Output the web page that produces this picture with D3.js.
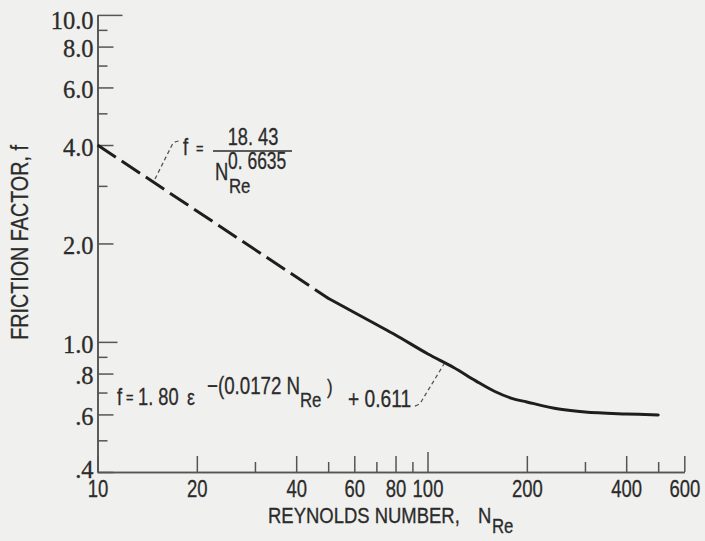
<!DOCTYPE html>
<html><head><meta charset="utf-8">
<script src="https://cdn.jsdelivr.net/npm/d3@7"></script>
<style>
html,body{margin:0;padding:0;background:#f1f1ef;}
svg{display:block;}
</style></head><body>
<svg id="c" width="705" height="541"></svg>
<script>
// ---- data ----
const xMajorTicks = [10, 20, 40, 60, 80, 100, 200, 400, 600];
const xMajorLabels = ["10", "20", "40", "60", "80", "100", "200", "400", "600"];
const xMinorTicks = [30, 50, 70, 90, 300, 500];
const yMajorTicks = [10, 8, 6, 4, 2, 1, 0.8, 0.6, 0.4];
const yMajorLabels = ["10.0", "8.0", "6.0", "4.0", "2.0", "1.0", ".8", ".6", ".4"];
const yMinorTicks = [9, 7, 5, 3, 0.9, 0.7, 0.5];

// power-law portion (dashed)
const powerLawN = [10, 50];
const powerLawF = [4.0, 1.36];
// exponential portion (solid)
const expCurveN = [50, 60, 70, 80, 100, 120, 140, 160, 180, 200, 250, 300, 400, 500];
const expCurveF = [1.36, 1.23, 1.13, 1.05, 0.92, 0.835, 0.76, 0.705, 0.672, 0.655, 0.623, 0.610, 0.602, 0.598];

const xTitle = "REYNOLDS NUMBER,";
const yTitle = "FRICTION FACTOR, f";

// ---- drawing ----
const SANS = "'Liberation Sans',Arial,sans-serif";   // horizontally condensed below
const SERIF = "'Liberation Serif','DejaVu Serif',serif";
const INK = "#2b2b2b";
const AXIS = "#555555";

const svg = d3.select("#c");
svg.append("rect").attr("width", 705).attr("height", 541).attr("fill", "#f0f0ee");

const x = d3.scaleLog().domain([10, 600]).range([97.5, 684.3]);
const y = d3.scaleLog().domain([0.4, 10]).range([472, 14.9]);

function styleAxis(g) {
  g.select(".domain").attr("stroke", AXIS).attr("stroke-width", 1.6);
  g.selectAll(".tick line").attr("stroke", AXIS).attr("stroke-width", 1.5);
  g.selectAll(".tick text").attr("fill", INK).attr("stroke", INK).attr("stroke-width", 0.3);
}

// Y axis
const gyMinor = svg.append("g").attr("transform", "translate(97.5,0)")
  .call(d3.axisLeft(y).tickValues(yMinorTicks).tickFormat("").tickSizeInner(-10).tickSizeOuter(0));
styleAxis(gyMinor);
const gy = svg.append("g").attr("transform", "translate(97.5,0)")
  .call(d3.axisLeft(y).tickValues(yMajorTicks).tickFormat((d, i) => yMajorLabels[i])
    .tickSizeInner(-16).tickSizeOuter(0).tickPadding(4));
gy.selectAll(".tick line").attr("x2", d => d === 10 ? 25 : (d === 1 ? 20 : 16));
gy.selectAll(".tick text").attr("font-family", SERIF).attr("font-size", 24.5)
  .attr("dy", d => d === 10 ? "0.55em" : (d === 0.4 ? "0.22em" : "0.42em"));
styleAxis(gy);

// X axis
const gx0 = svg.append("g").attr("transform", "translate(0,472)")
  .call(d3.axisBottom(x).tickValues(xMinorTicks).tickFormat("").tickSizeInner(-10).tickSizeOuter(0));
styleAxis(gx0);
const gx = svg.append("g").attr("transform", "translate(0,472)")
  .call(d3.axisBottom(x).tickValues(xMajorTicks).tickFormat((d, i) => xMajorLabels[i])
    .tickSizeInner(-16).tickSizeOuter(0).tickPadding(8));
gx.selectAll(".tick line").attr("y2", d => d === 100 ? -20 : -16);
gx.selectAll(".tick text").attr("font-family", SANS).attr("font-size", 24).attr("dy", "0.7em")
  .attr("transform", "scale(0.77,1)");
styleAxis(gx);

// Curves
const dashedLine = d3.line().x(d => x(d[0])).y(d => y(d[1]));
const solidLine = d3.line().x(d => x(d[0])).y(d => y(d[1])).curve(d3.curveCatmullRom.alpha(0.5));
svg.append("path")
  .attr("d", dashedLine(d3.zip(powerLawN, powerLawF)))
  .attr("fill", "none").attr("stroke", "#1e1e1e").attr("stroke-width", 3)
  .attr("stroke-dasharray", "22,7");
svg.append("path")
  .attr("d", solidLine(d3.zip(expCurveN, expCurveF)))
  .attr("fill", "none").attr("stroke", "#1e1e1e").attr("stroke-width", 3)
  .attr("stroke-linecap", "round");

// Text helper (condensed sans)
function txt(s, px, py, size, sx, anchor) {
  return svg.append("text")
    .attr("transform", `translate(${px},${py}) scale(${sx},1)`)
    .attr("font-family", SANS).attr("font-size", size)
    .attr("fill", INK).attr("stroke", INK).attr("stroke-width", 0.3)
    .attr("text-anchor", anchor || "start").text(s);
}

// Top equation: f = 18.43 / N_Re^0.6635
txt("f", 183, 155, 23, 0.8);
txt("=", 196, 154, 16, 0.8);
svg.append("line").attr("x1", 213).attr("x2", 292).attr("y1", 151).attr("y2", 151)
  .attr("stroke", INK).attr("stroke-width", 1.6);
txt("18. 43", 253, 145, 24, 0.76, "middle");
txt("N", 215, 180, 23, 0.8);
txt("0. 6635", 228, 169, 23, 0.76);
txt("Re", 229, 193, 21, 0.8);
svg.append("path").attr("d", "M155,179 L172,145 Q174,141 180,141")
  .attr("fill", "none").attr("stroke", "#555").attr("stroke-width", 1.3).attr("stroke-dasharray", "4,3");

// Bottom equation: f = 1.80 e^-(0.0172 N_Re) + 0.611
txt("f", 117, 405, 23, 0.8);
txt("=", 126, 403, 16, 0.8);
txt("1. 80", 138, 405, 24, 0.76);
txt("ε", 187, 405, 22, 0.8);
txt("\u2212(0.0172 N", 207, 394, 24, 0.78);
txt("Re", 300, 407, 21, 0.8);
txt(")", 327, 394, 21, 0.8);
txt("+ 0.611", 348, 407, 24, 0.8);
svg.append("path").attr("d", "M415,406 Q419,405 421,402 L444,364")
  .attr("fill", "none").attr("stroke", "#555").attr("stroke-width", 1.3).attr("stroke-dasharray", "4,3");

// Axis titles
txt(xTitle, 268, 523, 22, 0.84);
txt("N", 478, 523, 22, 0.84);
txt("Re", 492, 533, 20, 0.84);
svg.append("text").attr("transform", "translate(28,242.5) rotate(-90) scale(0.84,1)")
  .attr("text-anchor", "middle").attr("font-family", SANS).attr("font-size", 23.5)
  .attr("fill", INK).attr("stroke", INK).attr("stroke-width", 0.3).text(yTitle);
</script>
</body></html>
